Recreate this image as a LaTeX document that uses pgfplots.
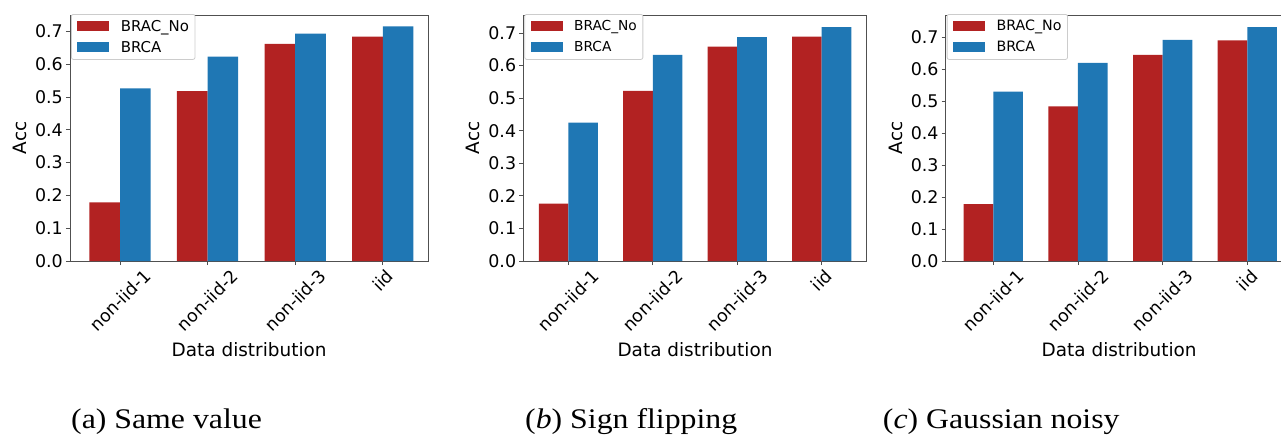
\documentclass[border=0pt]{standalone}
\usepackage{fontspec}
\setmainfont{DejaVu Sans}
\newfontfamily\capfont{Liberation Serif}[FakeStretch=1.12]
\usepackage{graphicx}
\usepackage{pgfplots}
\pgfplotsset{compat=1.18}
\definecolor{bred}{RGB}{178,34,34}
\definecolor{bblue}{RGB}{31,119,180}
\definecolor{spine}{RGB}{80,80,80}

\pgfplotstableread{
x no brca
0 0.179 0.526
1 0.518 0.623
2 0.662 0.693
3 0.684 0.715
}\dataA
\pgfplotstableread{
x no brca
0 0.176 0.425
1 0.522 0.633
2 0.658 0.687
3 0.689 0.718
}\dataB
\pgfplotstableread{
x no brca
0 0.178 0.530
1 0.484 0.620
2 0.645 0.692
3 0.691 0.732
}\dataC

\pgfplotsset{
  panel/.style={
    scale only axis, height=246bp, ymin=0,
    ybar, bar width=0.35,
    axis line style={spine, line width=0.8bp},
    tick style={spine, line width=0.8bp},
    tick align=outside, major tick length=4bp,
    xtick pos=left, ytick pos=left,
    xtick={0,1,2,3},
    xticklabels={\rotatebox{45}{non-iid-1},\rotatebox{45}{non-iid-2},\rotatebox{45}{non-iid-3},\rotatebox{45}{iid}},
    x tick label style={anchor=north, inner sep=0pt, yshift=-3bp, font=\fontsize{17.5}{20}\selectfont},
    ytick={0,0.1,...,0.7},
    /pgf/number format/assume math mode=true,
    y tick label style={/pgf/number format/fixed, /pgf/number format/fixed zerofill, /pgf/number format/precision=1,
      anchor=east, inner sep=0pt, xshift=-3bp, font=\fontsize{17.5}{20}\selectfont},
    ylabel={Acc}, xlabel={Data distribution},
    every axis y label/.style={at={([xshift=-50bp]axis description cs:0,0.5)}, anchor=center, rotate=90, font=\fontsize{18.5}{22}\selectfont},
    every axis x label/.style={at={([yshift=-95.7bp]axis description cs:0.5,0)}, anchor=base, font=\fontsize{18.5}{22}\selectfont},
    legend cell align=left,
    legend style={at={([xshift=1bp,yshift=1bp]axis description cs:0,1)}, anchor=north west,
      draw=black!20, line width=0.8bp, rounded corners=2bp, fill=white,
      inner xsep=6bp, inner ysep=1.5bp, row sep=0pt, column sep=0pt,
      nodes={inner sep=0pt}, font=\fontsize{#1}{18}\selectfont},
  },
  redbar/.style={fill=bred, draw=none, bar shift=-0.175,
    legend image code/.code={\fill[fill=bred, sharp corners] (0bp,-5bp) rectangle (32bp,5bp); \path[fill=none, draw=none] (0bp,-10.5bp) rectangle (43.4bp,10.5bp);}},
  bluebar/.style={fill=bblue, draw=none, bar shift=0.175,
    legend image code/.code={\fill[fill=bblue, sharp corners] (0bp,-5bp) rectangle (32bp,5bp); \path[fill=none, draw=none] (0bp,-10.5bp) rectangle (43.4bp,10.5bp);}},
}

\begin{document}
\begin{tikzpicture}
\useasboundingbox (0bp,0bp) rectangle (1281bp,-437bp);

\begin{axis}[panel=15, at={(70bp,-261bp)}, anchor=south west,
  width=358.3bp, xmin=-0.571, xmax=3.52, ymax=0.750]
\addplot[redbar] table[x=x, y=no] {\dataA};
\addplot[bluebar] table[x=x, y=brca] {\dataA};
\legend{BRAC\_No, BRCA}
\end{axis}

\begin{axis}[panel=13.8, at={(523.3bp,-261bp)}, anchor=south west,
  width=343.4bp, xmin=-0.533, xmax=3.533, ymax=0.755]
\addplot[redbar] table[x=x, y=no] {\dataB};
\addplot[bluebar] table[x=x, y=brca] {\dataB};
\legend{BRAC\_No, BRCA}
\end{axis}

\begin{axis}[panel=14.3, at={(945.7bp,-261bp)}, anchor=south west,
  width=346.9bp, xmin=-0.562, xmax=3.535, ymax=0.770]
\addplot[redbar] table[x=x, y=no] {\dataC};
\addplot[bluebar] table[x=x, y=brca] {\dataC};
\legend{BRAC\_No, BRCA}
\end{axis}

\node[anchor=base west, inner sep=0pt, font=\capfont\fontsize{28.5}{32}\selectfont] at (71bp,-428.3bp) {(a) Same value};
\node[anchor=base west, inner sep=0pt, font=\capfont\fontsize{28.5}{32}\selectfont] at (525bp,-428.3bp) {(\textit{b}) Sign flipping};
\node[anchor=base west, inner sep=0pt, font=\capfont\fontsize{28.5}{32}\selectfont] at (882.7bp,-428.3bp) {(\textit{c}) Gaussian noisy};
\end{tikzpicture}
\end{document}
